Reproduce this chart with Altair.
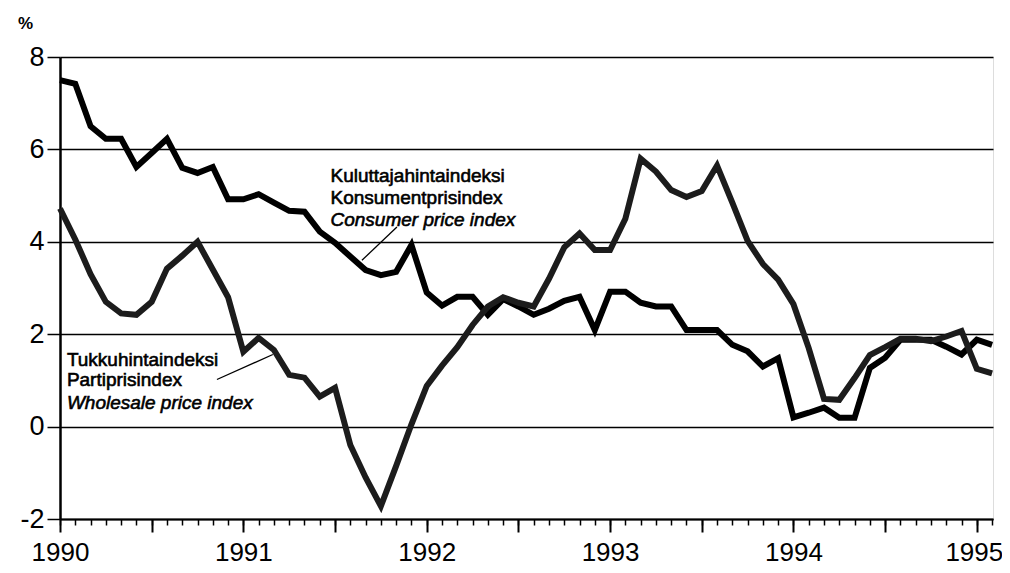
import altair as alt
import pandas as pd

# month index 0 = Jan 1990 ... 61 = Feb 1995
months = list(range(62))

cpi = [7.5, 7.42, 6.5, 6.23, 6.23, 5.62, 5.92, 6.23, 5.6, 5.49, 5.62, 4.92,
       4.92, 5.03, 4.85, 4.67, 4.65, 4.22, 3.98, 3.68, 3.39, 3.28, 3.35, 3.93,
       2.9, 2.62, 2.81, 2.81, 2.42, 2.76, 2.6, 2.42, 2.55, 2.72, 2.81, 2.09,
       2.92, 2.92, 2.68, 2.6, 2.6, 2.09, 2.09, 2.09, 1.77, 1.63, 1.3, 1.48,
       0.2, 0.3, 0.41, 0.19, 0.19, 1.27, 1.49, 1.88, 1.88, 1.88, 1.73, 1.56,
       1.88, 1.77]

wpi = [4.72, 4.05, 3.3, 2.7, 2.45, 2.42, 2.7, 3.42, 3.7, 4.0, 3.4, 2.8,
       1.62, 1.92, 1.66, 1.12, 1.06, 0.65, 0.84, -0.4, -1.1, -1.72, -0.85, 0.05,
       0.88, 1.32, 1.72, 2.2, 2.6, 2.8, 2.68, 2.6, 3.2, 3.88, 4.18, 3.82,
       3.82, 4.5, 5.8, 5.52, 5.12, 4.97, 5.1, 5.65, 4.85, 4.02, 3.52, 3.18,
       2.65, 1.7, 0.6, 0.58, 1.05, 1.55, 1.72, 1.9, 1.9, 1.85, 1.95, 2.07,
       1.25, 1.15]

years = ["1990", "1991", "1992", "1993", "1994", "1995"]
y_ticks = [-2, 0, 2, 4, 6, 8]

cpi_label = ["Kuluttajahintaindeksi", "Konsumentprisindex", "Consumer price index"]
wpi_label = ["Tukkuhintaindeksi", "Partiprisindex", "Wholesale price index"]

FONT = "Liberation Sans"

df = pd.DataFrame({
    "m": months * 2,
    "v": cpi + wpi,
    "s": ["cpi"] * len(months) + ["wpi"] * len(months),
})

xdom = [0, 61.06]
xs = alt.Scale(domain=xdom, nice=False, zero=False)
ys = alt.Scale(domain=[-2, 8], nice=False, zero=False)

year_expr = "datum.value % 12 == 0 ? toString(1990 + datum.value / 12) : ''"

dummy = pd.DataFrame({"m": [0], "v": [0]})

# minor axis layer (monthly ticks, y axis with grid)
base_axes = alt.Chart(dummy).mark_point(opacity=0).encode(
    x=alt.X("m:Q", scale=xs, axis=alt.Axis(
        orient="bottom",
        values=months, tickSize=6, tickWidth=1.5, tickColor="black",
        labels=False, domain=True, domainColor="black", domainWidth=2,
        grid=False, title=None)),
    y=alt.Y("v:Q", scale=ys, axis=alt.Axis(
        orient="left",
        values=y_ticks, tickSize=13, tickWidth=1.5, tickColor="black",
        grid=True, gridColor="black", gridWidth=1.5, gridOpacity=1,
        domain=True, domainColor="black", domainWidth=2.5,
        labelExpr="toString(datum.value)",
        labelFont=FONT, labelFontSize=27, labelColor="black", labelPadding=3,
        title="%", titleAngle=0, titleX=-35, titleY=-34, titleAlign="center",
        titleBaseline="middle", titleFont=FONT, titleFontSize=17, titleFontWeight="bold")),
)

major_axes = alt.Chart(dummy).mark_point(opacity=0).encode(
    x=alt.X("m:Q", scale=xs, axis=alt.Axis(
        orient="bottom",
        values=list(range(0, 61, 6)), tickSize=13, tickWidth=2, tickColor="black",
        labelExpr=year_expr, labelFont=FONT, labelFontSize=26, labelColor="black",
        labelPadding=7, labelFlush=False, labelOverlap=False,
        labelOffset={"condition": {"test": "datum.value == 60", "value": -3}, "value": 0},
        domain=False, grid=False, title=None)),
    y=alt.Y("v:Q", scale=ys, axis=None),
)

lines = alt.Chart(df).mark_line(strokeWidth=6, strokeJoin="miter", strokeCap="butt").encode(
    x=alt.X("m:Q", scale=xs, axis=None),
    y=alt.Y("v:Q", scale=ys, axis=None),
    color=alt.Color("s:N", scale=alt.Scale(domain=["wpi", "cpi"], range=["#1c1c1c", "#000000"]), legend=None),
    detail="s:N",
)

# leader lines
leaders = pd.DataFrame({
    "x": [19.76, 10.27], "y": [3.6, 1.02],
    "x2": [22.05, 13.93], "y2": [4.32, 1.56],
})
leader = alt.Chart(leaders).mark_rule(color="black", strokeWidth=1.3).encode(
    x=alt.X("x:Q", scale=xs, axis=None), y=alt.Y("y:Q", scale=ys, axis=None),
    x2="x2:Q", y2="y2:Q",
)

def label_layer(texts, xm, yvals):
    d = pd.DataFrame({"t": texts, "x": [xm] * 3, "y": yvals})
    styles = ["normal", "normal", "italic"]
    layers = []
    for i in range(3):
        layers.append(
            alt.Chart(d.iloc[[i]]).mark_text(
                align="left", baseline="middle", font=FONT, fontSize=19,
                fontStyle=styles[i], fontWeight=500, color="black",
                stroke="black", strokeWidth=0.6,
            ).encode(x=alt.X("x:Q", scale=xs, axis=None),
                     y=alt.Y("y:Q", scale=ys, axis=None), text="t:N")
        )
    return layers

cpi_text = label_layer(cpi_label, 17.7, [5.42, 4.95, 4.48])
wpi_text = label_layer(wpi_label, 0.45, [1.45, 1.0, 0.52])

chart = alt.layer(
    base_axes, major_axes, lines, leader, *cpi_text, *wpi_text
).resolve_axis(x="independent", y="independent").properties(
    width=933, height=462,
    padding={"left": 52, "top": 49, "right": 9, "bottom": 46},
    autosize=alt.AutoSizeParams(type="none"),
).configure_view(strokeWidth=0, stroke="transparent").configure(background="white")

chart.save("out.html", embed_options={"renderer": "svg", "actions": False})
